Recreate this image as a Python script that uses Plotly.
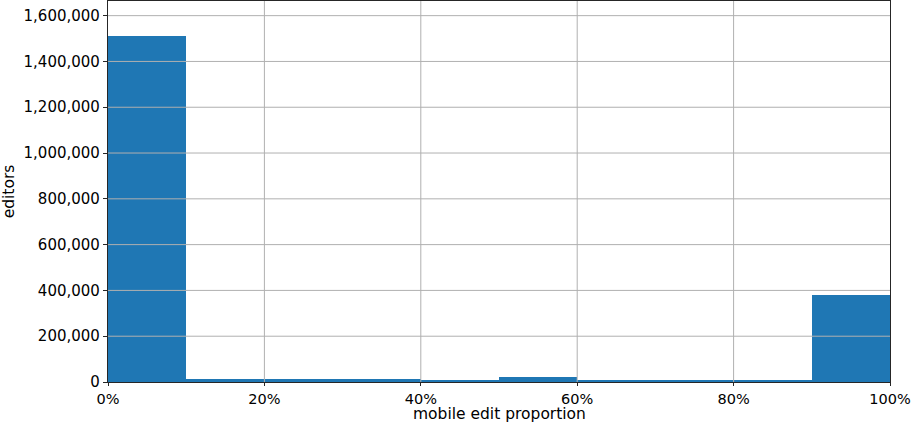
import plotly.graph_objects as go

bin_edges = [0.0, 0.1, 0.2, 0.3, 0.4, 0.5, 0.6, 0.7, 0.8, 0.9, 1.0]
editor_counts = [1513000, 13000, 13000, 13000, 5000, 22000, 9000, 9000, 9000, 380000]
y_ticks = [0, 200000, 400000, 600000, 800000, 1000000, 1200000, 1400000, 1600000]
x_ticks = [0.0, 0.2, 0.4, 0.6, 0.8, 1.0]

FONT = "DejaVu Sans"
GRID = "#b0b0b0"
SPINE = "#262626"
PLOT_H = 423 - 1 - 41

centers = [(bin_edges[i] + bin_edges[i + 1]) / 2 for i in range(len(editor_counts))]
widths = [bin_edges[i + 1] - bin_edges[i] for i in range(len(editor_counts))]

fig = go.Figure(go.Bar(
    x=centers, y=editor_counts, width=widths,
    marker=dict(color="#1f77b4", line=dict(width=0)),
    hovertemplate="%{x}<br>%{y:,}<extra></extra>",
))

shapes = []
for v in y_ticks[1:]:
    shapes.append(dict(type="line", xref="paper", x0=0, x1=1, yref="y", y0=v, y1=v,
                       line=dict(color=GRID, width=1), layer="above"))
for v in x_ticks[1:-1]:
    shapes.append(dict(type="line", yref="paper", y0=0, y1=1, xref="x", x0=v, x1=v,
                       line=dict(color=GRID, width=1), layer="above"))

fig.update_layout(
    width=912, height=423,
    margin=dict(l=108, r=22, t=1, b=41, autoexpand=False),
    paper_bgcolor="white", plot_bgcolor="white",
    font=dict(family=FONT, size=15, color="black"),
    bargap=0, showlegend=False,
    shapes=shapes,
    annotations=[dict(
        text="mobile edit proportion", xref="paper", yref="paper",
        x=0.5, y=-32 / PLOT_H, xanchor="center", yanchor="middle",
        showarrow=False, font=dict(size=15.5),
    )],
    xaxis=dict(
        range=[0, 1], tickvals=x_ticks, tickformat=".0%",
        showgrid=False, zeroline=False, automargin=False,
        showline=True, linecolor=SPINE, linewidth=1.2, mirror=True,
        ticks="outside", ticklen=3, tickwidth=1, tickcolor=SPINE,
        tickfont=dict(size=14.5),
        layer="above traces",
    ),
    yaxis=dict(
        range=[0, 1664000], tickvals=y_ticks, tickformat=",",
        showgrid=False, zeroline=False, automargin=False,
        showline=True, linecolor=SPINE, linewidth=1.2, mirror=True,
        ticks="outside", ticklen=4, tickwidth=1, tickcolor=SPINE,
        title=dict(text="editors", standoff=5, font=dict(size=15.5)),
        layer="above traces",
    ),
)

fig.write_html(
    "out.html",
    config={"displayModeBar": False},
    post_script="document.body.style.margin='0';document.body.style.overflow='hidden';",
)
